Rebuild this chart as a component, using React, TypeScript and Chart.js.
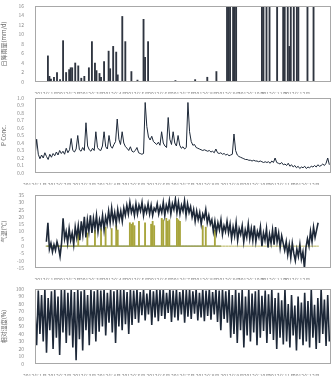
import React, { useEffect, useRef } from "react";
import { Chart, registerables } from "chart.js";

Chart.register(...registerables);

// ---------- DATA ----------
const xTickLabels = [
  "2012年1月", "2012年2月", "2012年3月", "2012年4月", "2012年5月", "2012年6月",
  "2012年7月", "2012年8月", "2012年9月", "2012年10月", "2012年11月", "2012年12月",
];
const pointsPerMonth = 15;

// daily rainfall (mm), 30 = bar running past the top of the axis
const rainfall = [
  0, 5.5, 1.2, 0.6, 0, 1.0, 0, 2.0, 0, 0.5, 0, 8.7, 0, 2.0, 0,
  2.6, 3.0, 3.0, 0, 4.0, 0, 3.4, 0, 0.8, 0, 1.2, 0, 0, 3.0, 0,
  8.5, 0, 4.0, 2.4, 0, 1.8, 1.0, 0, 4.3, 0, 0, 6.5, 2.8, 0, 7.5,
  0, 6.3, 1.5, 0, 0, 13.8, 0, 8.5, 0, 0, 0, 2.2, 0, 0, 0,
  0.4, 0, 0, 0, 13.2, 5.2, 0, 8.5, 0, 0, 0, 0, 0, 0, 0,
  0, 0, 0, 0, 0, 0, 0, 0, 0, 0, 0.3, 0, 0, 0, 0,
  0, 0, 0, 0, 0, 0, 0, 0, 0.5, 0, 0, 0, 0, 0, 0,
  0, 1.0, 0, 0, 0, 0, 0, 2.2, 0, 0, 0, 0, 0, 0, 30,
  30, 30, 0, 30, 30, 30, 0, 0, 0, 0, 0, 0, 0, 0, 0,
  0, 0, 0, 0, 0, 0, 0, 30, 30, 0, 30, 0, 30, 0, 0,
  0, 0, 30, 0, 0, 0, 30, 30, 0, 30, 7.5, 30, 0, 30, 0,
  30, 30, 0, 0, 0, 0, 0, 30, 0, 0, 0, 30, 0, 0, 0,
];

const pConc = [
  0.22, 0.45, 0.25, 0.19, 0.24, 0.2, 0.27, 0.22, 0.18, 0.25, 0.21, 0.26, 0.23, 0.28, 0.24,
  0.3, 0.26, 0.29, 0.25, 0.33, 0.27, 0.31, 0.46, 0.3, 0.28, 0.32, 0.5, 0.31, 0.29, 0.34,
  0.3, 0.67, 0.36, 0.31, 0.29, 0.33, 0.3, 0.55, 0.34, 0.31, 0.3, 0.36, 0.55, 0.35, 0.32,
  0.5, 0.36, 0.33, 0.38, 0.42, 0.72, 0.45, 0.38, 0.55, 0.4, 0.35, 0.33, 0.3, 0.35, 0.29,
  0.28, 0.3, 0.34, 0.27, 0.26, 0.25, 0.26, 0.94, 0.62, 0.48, 0.44, 0.49, 0.42, 0.4, 0.38,
  0.41, 0.37, 0.55, 0.4, 0.36, 0.34, 0.74, 0.45, 0.38, 0.55, 0.4, 0.36, 0.5, 0.37, 0.33,
  0.35, 0.32, 0.34, 0.94, 0.55, 0.42, 0.37, 0.38, 0.34, 0.33, 0.32, 0.31, 0.3, 0.31, 0.3,
  0.29, 0.3, 0.28, 0.29, 0.27, 0.32, 0.27, 0.26, 0.27, 0.25, 0.26, 0.24, 0.25, 0.23, 0.24,
  0.25, 0.52, 0.3, 0.24, 0.22, 0.21, 0.2, 0.19, 0.18, 0.18, 0.17, 0.17, 0.16, 0.17, 0.16,
  0.16, 0.15, 0.16, 0.15, 0.14, 0.15, 0.14, 0.15, 0.13, 0.16, 0.14, 0.2, 0.14, 0.13, 0.12,
  0.14, 0.11, 0.12, 0.1, 0.13, 0.09, 0.11, 0.08, 0.1, 0.07, 0.09, 0.06, 0.08, 0.07, 0.09,
  0.06, 0.08, 0.07, 0.09, 0.08, 0.1, 0.08, 0.11, 0.09, 0.1, 0.12, 0.1, 0.13, 0.2, 0.11,
];

const airTemp = [
  3, 16, -2, 2, -4, 1, -3, 3, -1, -7, 2, 19, 5, 10, 2,
  12, 4, 9, 1, 13, 6, 14, 4, 17, 8, 20, 6, 18, 10, 21,
  9, 19, 12, 21, 10, 18, 13, 21, 11, 20, 15, 24, 16, 26, 17,
  23, 15, 25, 18, 24, 17, 26, 21, 28, 22, 30, 23, 27, 21, 29,
  22, 28, 24, 30, 21, 27, 23, 29, 22, 28, 21, 26, 24, 29, 22,
  27, 23, 30, 21, 28, 24, 31, 22, 29, 25, 32, 23, 30, 22, 28,
  24, 31, 21, 29, 23, 27, 20, 25, 17, 24, 18, 23, 15, 22, 19,
  25, 16, 21, 15, 18, 10, 17, 9, 16, 11, 18, 8, 14, 10, 17,
  9, 15, 5, 13, 7, 16, 4, 12, 8, 14, 3, 11, 6, 15, 5,
  12, 4, 14, 3, 10, 6, 13, 0, 9, 4, 12, -1, 8, 2, 11,
  1, 13, 3, 9, -1, 7, 2, -3, 3, -6, 1, -8, 2, -5, -10,
  -2, -7, 1, -9, -4, -15, -1, 5, 0, 10, 3, 13, 6, 11, 16,
];

const greenBars = [
  0, 0, 0, 0, 0, 0, 0, 0, 0, 0, 0, 0, 0, 0, 0,
  0, 0, 0, 0, 0, 0, 10, 0, 0, 0, 0, 0, 9, 0, 0,
  0, 0, 11, 0, 0, 0, 12, 0, 0, 13, 0, 0, 0, 12, 0,
  0, 14, 11, 0, 0, 0, 0, 0, 0, 0, 16, 15, 16, 14, 0,
  0, 17, 0, 0, 0, 16, 0, 0, 0, 15, 17, 14, 0, 0, 0,
  0, 19, 18, 0, 19, 17, 18, 0, 0, 0, 0, 19, 18, 17, 0,
  0, 0, 0, 0, 0, 0, 0, 0, 0, 0, 0, 0, 0, 14, 0,
  13, 0, 0, 0, 0, 0, 11, 0, 0, 0, 0, 0, 0, 0, 0,
  0, 0, 0, 0, 0, 0, 0, 0, 0, 0, 0, 0, 0, 0, 0,
  0, 0, 0, 0, 0, 0, 0, 0, 0, 0, 0, 0, 0, 0, 0,
  0, 0, 0, 0, 0, 0, 0, 0, 0, 0, 0, 0, 0, 0, 0,
  0, 0, 0, 0, 0, 0, 0, 0, 0, 0, 0, 0, 0, 0, 0,
];
const greenBaselineEnd = 115;

const humidity = [
  70, 25, 98, 40, 92, 30, 100, 15, 88, 45, 97, 20, 100, 35, 90,
  12, 99, 42, 100, 28, 95, 38, 100, 22, 96, 5, 100, 33, 97, 18,
  100, 45, 92, 25, 100, 40, 97, 30, 100, 43, 98, 50, 100, 38, 95,
  55, 100, 42, 97, 28, 100, 50, 99, 45, 100, 53, 96, 40, 100, 52,
  98, 60, 100, 55, 96, 65, 100, 58, 94, 66, 100, 52, 97, 62, 100,
  57, 99, 64, 100, 60, 95, 68, 100, 56, 98, 62, 100, 58, 96, 66,
  100, 55, 99, 63, 100, 60, 97, 67, 100, 58, 95, 62, 100, 57, 98,
  64, 100, 59, 96, 66, 100, 56, 98, 45, 100, 60, 97, 55, 100, 35,
  92, 40, 100, 28, 95, 45, 99, 22, 90, 38, 100, 30, 94, 42, 97,
  25, 100, 35, 91, 44, 98, 28, 93, 40, 100, 32, 88, 20, 95, 35,
  85, 26, 100, 30, 80, 22, 92, 38, 78, 18, 90, 33, 82, 25, 95,
  30, 84, 22, 100, 35, 79, 20, 88, 28, 100, 40, 86, 24, 92, 30,
];

// ---------- STYLE ----------
const FONT = '"Noto Sans CJK SC", "DejaVu Sans", sans-serif';
const LINE = "#1d2838";
const GREY = "#8a8a8a";

const toXY = (arr: number[]) => arr.map((v, i) => ({ x: i, y: v }));

const framePlugin = {
  id: "frame",
  afterDraw(chart: any) {
    const { ctx, chartArea: a } = chart;
    ctx.save();
    ctx.strokeStyle = "#a8a8a8";
    ctx.lineWidth = 1;
    ctx.strokeRect(a.left + 0.5, a.top + 0.5, a.right - a.left - 1, a.bottom - a.top - 1);
    ctx.restore();
  },
};

function makeOptions(yMin: number, yMax: number, yStep: number, title: string, fmt?: (v: number) => string) {
  return {
    animation: false,
    responsive: false,
    layout: { padding: { top: 3, right: 3, left: 0, bottom: 0 } },
    plugins: { legend: { display: false }, tooltip: { enabled: false } },
    scales: {
      x: {
        type: "linear",
        min: 0,
        max: xTickLabels.length * pointsPerMonth,
        grid: { display: false },
        border: { display: false },
        afterFit: (s: any) => { s.height = 12; },
        ticks: {
          stepSize: pointsPerMonth,
          autoSkip: false,
          maxRotation: 0,
          minRotation: 0,
          padding: 1,
          color: GREY,
          font: { family: FONT, size: 5 },
          callback: (v: number) => xTickLabels[Math.round(v / pointsPerMonth)] ?? "",
        },
      },
      y: {
        min: yMin,
        max: yMax,
        grid: { display: false },
        border: { display: false },
        afterFit: (s: any) => { s.width = 35; },
        title: { display: true, text: title, color: "#6a6a6a", font: { family: FONT, size: 6 }, padding: 0 },
        ticks: {
          stepSize: yStep,
          autoSkip: false,
          padding: 3,
          color: GREY,
          font: { family: FONT, size: 5 },
          callback: (v: number) => (fmt ? fmt(v) : String(v)),
        },
      },
    },
  };
}

const panels = [
  {
    top: 0, height: 94,
    build: () => ({
      type: "bar",
      data: { datasets: [{ type: "bar", data: toXY(rainfall), backgroundColor: "#2f3540", barThickness: 1.2 }] },
      options: makeOptions(0, 16, 2, "日降雨量(mm/d)"),
    }),
  },
  {
    top: 92, height: 93,
    build: () => ({
      type: "line",
      data: { datasets: [{ data: toXY(pConc), borderColor: LINE, borderWidth: 1, pointRadius: 0, tension: 0 }] },
      options: makeOptions(0, 1, 0.1, "P Conc.", (v) => v.toFixed(1)),
    }),
  },
  {
    top: 189, height: 91,
    build: () => ({
      type: "line",
      data: {
        datasets: [
          { type: "line", data: toXY(airTemp), borderColor: LINE, borderWidth: 1.6, pointRadius: 0, tension: 0, order: 0 },
          { type: "bar", data: toXY(greenBars), backgroundColor: "#a8a53c", barThickness: 1.2, order: 1 },
          { type: "line", data: [{ x: 0, y: 0 }, { x: greenBaselineEnd, y: 0 }], borderColor: "#556b2a", borderWidth: 1, pointRadius: 0, order: 2 },
        ],
      },
      options: makeOptions(-15, 35, 5, "气温(℃)"),
    }),
  },
  {
    top: 283, height: 93,
    build: () => ({
      type: "line",
      data: { datasets: [{ data: toXY(humidity), borderColor: LINE, borderWidth: 1.6, pointRadius: 0, tension: 0 }] },
      options: makeOptions(0, 100, 10, "相对湿度(%)"),
    }),
  },
];

function Panel({ top, height, build }: { top: number; height: number; build: () => any }) {
  const ref = useRef<HTMLCanvasElement | null>(null);
  useEffect(() => {
    if (!ref.current) return;
    const cfg = build();
    cfg.plugins = [framePlugin];
    const chart = new Chart(ref.current, cfg);
    return () => chart.destroy();
  }, []);
  return (
    <canvas
      ref={ref}
      width={334}
      height={height}
      style={{ position: "absolute", left: 0, top, width: 334, height }}
    />
  );
}

export default function App() {
  return (
    <div style={{ position: "absolute", left: 0, top: 0, width: 334, height: 385, background: "#fff", overflow: "hidden" }}>
      {panels.map((p, i) => (
        <Panel key={i} top={p.top} height={p.height} build={p.build} />
      ))}
    </div>
  );
}
